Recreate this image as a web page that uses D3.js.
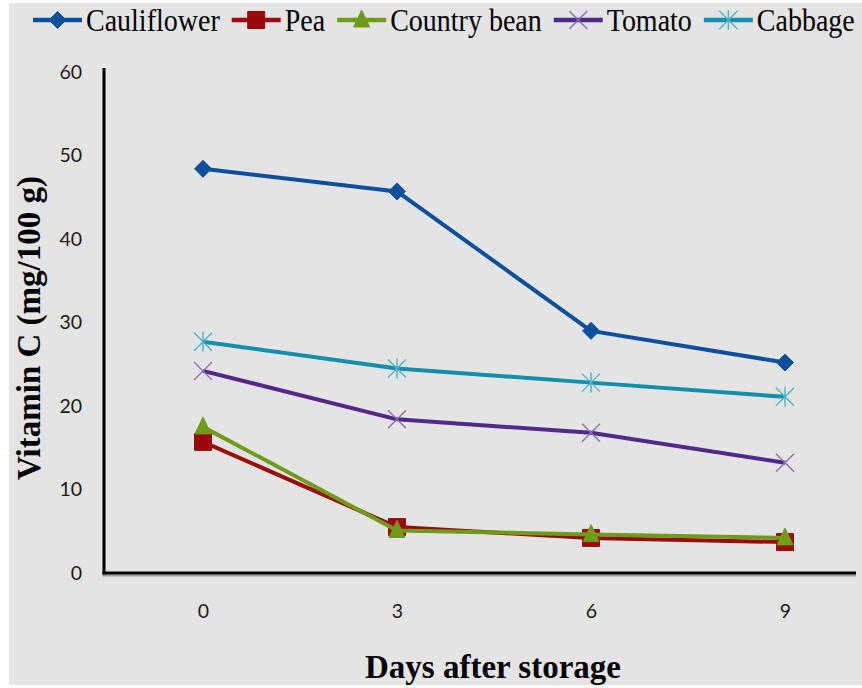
<!DOCTYPE html>
<html>
<head>
<meta charset="utf-8">
<script src="https://cdn.jsdelivr.net/npm/d3@7"></script>
<style>
  html, body { margin: 0; padding: 0; background: #ffffff; }
  svg { display: block; }
</style>
</head>
<body>
<svg id="chart" width="862" height="688"></svg>
<script>
// ---- data ----
const days = ["0", "3", "6", "9"];
const yTicks = [0, 10, 20, 30, 40, 50, 60];
const seriesNames = ["Cauliflower", "Pea", "Country bean", "Tomato", "Cabbage"];
const cauliflower = [48.4, 45.7, 29.0, 25.2];
const pea = [15.7, 5.5, 4.2, 3.7];
const countryBean = [17.5, 5.1, 4.6, 4.2];
const tomato = [24.2, 18.4, 16.8, 13.2];
const cabbage = [27.7, 24.5, 22.8, 21.1];
const seriesValues = [cauliflower, pea, countryBean, tomato, cabbage];

// ---- styles ----
const lineColors = ["#0b4f9c", "#9b0a0a", "#6f9a1a", "#4f2a88", "#1190ab"];
const markerColors = ["#0b4f9c", "#9b0a0a", "#6f9a1a", "#8a70b2", "#4cb3c9"];
const markerTypes = ["diamond", "square", "triangle", "x", "asterisk"];

const svg = d3.select("#chart");

// background
svg.append("rect").attr("x", 9).attr("y", 3).attr("width", 853).attr("height", 682)
  .attr("fill", "#e4e4e4");

const x = d3.scalePoint().domain(days).range([106, 882]).padding(0.5);
const y = d3.scaleLinear().domain([0, 60]).range([573, 72]);

function markerPath(type) {
  switch (type) {
    case "diamond": return "M0,-8.5L8.5,0L0,8.5L-8.5,0Z";
    case "square": return "M-8.5,-8.5H8.5V8.5H-8.5Z";
    case "triangle": return "M0,-10L8,7H-8Z";
    case "x": return "M-9,-9L9,9M-9,9L9,-9";
    case "asterisk": return "M-9,-9L9,9M-9,9L9,-9M0,-10V10";
  }
}
function drawMarker(g, type, color) {
  const filled = type === "diamond" || type === "square" || type === "triangle";
  g.append("path").attr("d", markerPath(type))
    .attr("fill", filled ? color : "none")
    .attr("stroke", color)
    .attr("stroke-width", filled ? 1 : 1.4);
}

// y axis
const yAxis = d3.axisLeft(y).tickValues(yTicks).tickSize(0).tickPadding(22);
const gy = svg.append("g").attr("transform", "translate(104,0)").call(yAxis);
gy.select(".domain").remove();
gy.selectAll("text").attr("font-family", "Lato, 'Open Sans', sans-serif")
  .attr("font-size", 19.5).attr("fill", "#1a1a1a");
svg.append("line").attr("x1", 104).attr("x2", 104).attr("y1", 68).attr("y2", 574.5)
  .attr("stroke", "#000").attr("stroke-width", 3);

// x axis
const xAxis = d3.axisBottom(x).tickSize(0).tickPadding(31);
const gx = svg.append("g").attr("transform", "translate(0,573)").call(xAxis);
gx.select(".domain").remove();
gx.selectAll("text").attr("font-family", "Lato, 'Open Sans', sans-serif")
  .attr("font-size", 19.5).attr("fill", "#1a1a1a");
svg.append("line").attr("x1", 102.5).attr("x2", 856).attr("y1", 575.5).attr("y2", 575.5)
  .attr("stroke", "#9a9a9a").attr("stroke-width", 2);
svg.append("line").attr("x1", 102.5).attr("x2", 856).attr("y1", 573).attr("y2", 573)
  .attr("stroke", "#000").attr("stroke-width", 3);

// series
const line = d3.line().x((d, i) => x(days[i])).y(d => y(d));
seriesValues.forEach((vals, s) => {
  const g = svg.append("g");
  g.append("path").datum(vals).attr("d", line)
    .attr("fill", "none").attr("stroke", lineColors[s]).attr("stroke-width", 4)
    .attr("stroke-linejoin", "round");
  vals.forEach((v, i) => {
    const mg = g.append("g").attr("transform", `translate(${x(days[i])},${y(v)})`);
    drawMarker(mg, markerTypes[s], markerColors[s]);
  });
});

// axis titles
svg.append("text").attr("x", 493).attr("y", 678).attr("text-anchor", "middle")
  .attr("font-family", "'Liberation Serif', 'Times New Roman', serif")
  .attr("font-weight", "bold").attr("font-size", 33).attr("fill", "#000")
  .text("Days after storage");
svg.append("text").attr("transform", "translate(40,328) rotate(-90)")
  .attr("text-anchor", "middle")
  .attr("font-family", "'Liberation Serif', 'Times New Roman', serif")
  .attr("font-weight", "bold").attr("font-size", 33).attr("fill", "#000")
  .text("Vitamin C (mg/100 g)");

// legend
let lx = 33;
const ly = 20;
seriesNames.forEach((name, s) => {
  const g = svg.append("g");
  g.append("line").attr("x1", lx).attr("x2", lx + 49).attr("y1", ly).attr("y2", ly)
    .attr("stroke", lineColors[s]).attr("stroke-width", 4.5);
  const mg = g.append("g").attr("transform", `translate(${lx + 24.5},${ly})`);
  drawMarker(mg, markerTypes[s], markerColors[s]);
  const t = g.append("text")
    .attr("transform", `translate(${lx + 53},${ly + 11}) scale(1,1.12)`)
    .attr("font-family", "'Liberation Serif', 'Times New Roman', serif")
    .attr("font-size", 28).attr("fill", "#000").text(name);
  const w = t.node().getComputedTextLength();
  lx = lx + 53 + w + 12;
});
</script>
</body>
</html>
